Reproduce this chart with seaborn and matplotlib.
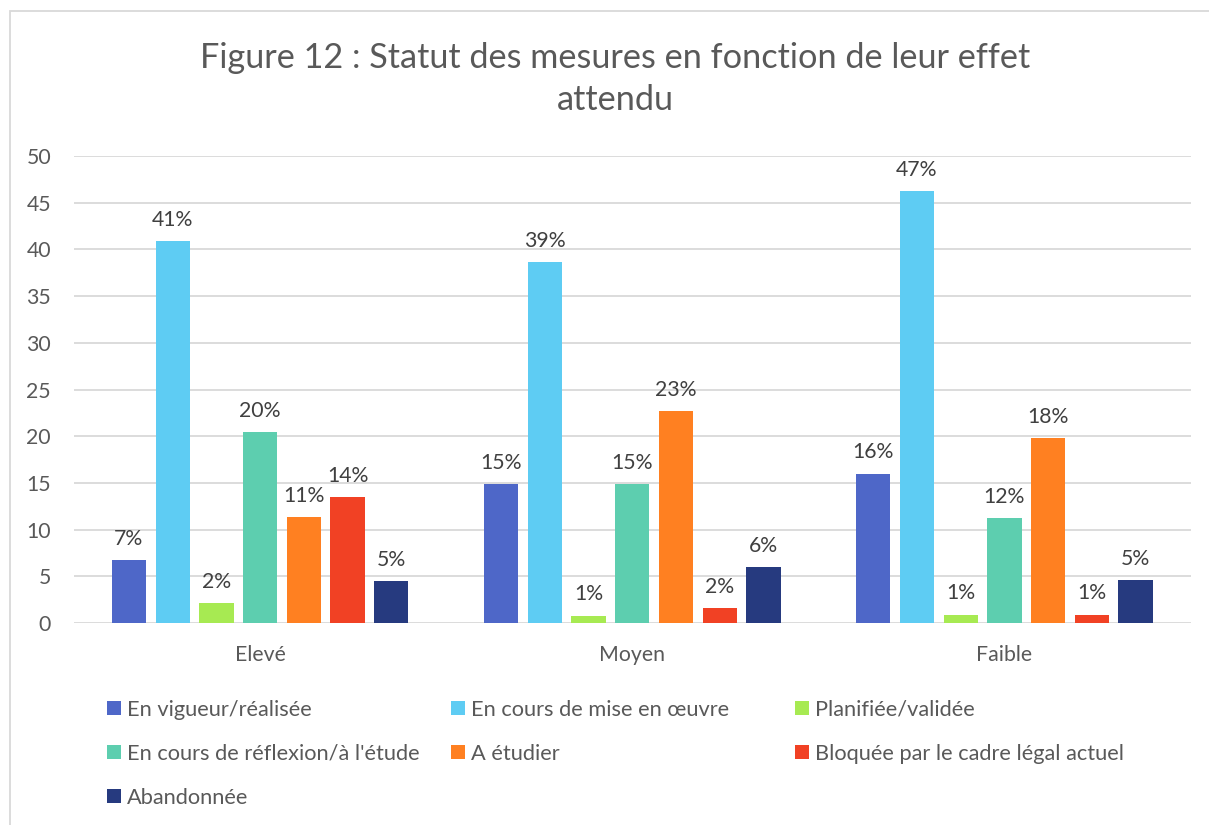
import pandas as pd
import numpy as np
import seaborn as sns
import matplotlib.pyplot as plt
from matplotlib.patches import Rectangle

# Data
effets = ['Elevé', 'Moyen', 'Faible']
statuts = ['En vigueur/réalisée', 'En cours de mise en œuvre', 'Planifiée/validée',
           "En cours de réflexion/à l'étude", 'A étudier',
           'Bloquée par le cadre légal actuel', 'Abandonnée']

# bar heights per status (Elevé, Moyen, Faible)
en_vigueur = [6.7, 14.9, 16.0]
en_cours = [40.9, 38.6, 46.2]
planifiee = [2.1, 0.8, 0.9]
reflexion = [20.4, 14.9, 11.2]
a_etudier = [11.3, 22.7, 19.8]
bloquee = [13.5, 1.6, 0.9]
abandonnee = [4.5, 6.0, 4.6]

# data labels shown above the bars
lbl_en_vigueur = [7, 15, 16]
lbl_en_cours = [41, 39, 47]
lbl_planifiee = [2, 1, 1]
lbl_reflexion = [20, 15, 12]
lbl_a_etudier = [11, 23, 18]
lbl_bloquee = [14, 2, 1]
lbl_abandonnee = [5, 6, 5]

colors = ['#4E67C8', '#5ECCF3', '#A7EA52', '#5DCEAF', '#FF8021', '#F14124', '#263A7F']

series = [en_vigueur, en_cours, planifiee, reflexion, a_etudier, bloquee, abandonnee]
labels = [lbl_en_vigueur, lbl_en_cours, lbl_planifiee, lbl_reflexion,
          lbl_a_etudier, lbl_bloquee, lbl_abandonnee]

df = pd.DataFrame([
    {'effet': e, 'statut': s, 'valeur': v}
    for s, vals in zip(statuts, series)
    for e, v in zip(effets, vals)
])

sns.set_style('white')
plt.rcParams['font.family'] = ['Lato', 'DejaVu Sans']
grey = '#595959'

W, H = 1209, 825
fig = plt.figure(figsize=(W / 100, H / 100), dpi=100)

# light chart border (only top and left edges fall inside the image)
fig.patches.append(Rectangle((10 / W, -0.2), 1.5, 1.2 - 11 / H, transform=fig.transFigure,
                             fill=False, edgecolor='#D9D9D9', linewidth=1.3))

ax = fig.add_axes([74 / W, 1 - 623 / H, (1190.5 - 74) / W, (623 - 156) / H])
sns.barplot(data=df, x='effet', y='valeur', hue='statut', hue_order=statuts,
            palette=colors, saturation=1, width=0.822, gap=0.215,
            linewidth=0, ax=ax)

for cont, lbl in zip(ax.containers, labels):
    ax.bar_label(cont, labels=[f'{p}%' for p in lbl], padding=8,
                 fontsize=15.3, color='#404040')

ax.set_ylim(0, 50)
ax.set_xlim(-0.5, 2.5)
ax.set_yticks(np.arange(0, 51, 5))
ax.set_xlabel('')
ax.set_ylabel('')
ax.yaxis.grid(True, color='#D9D9D9', linewidth=1.3)
ax.set_axisbelow(True)
ax.tick_params(axis='y', length=0, pad=16.5, labelsize=15.3, labelcolor=grey)
ax.tick_params(axis='x', length=0, pad=16, labelsize=15.3, labelcolor=grey)
sns.despine(ax=ax, left=True, bottom=True)

# legend: 3 equal-width columns like the original
handles, _ = ax.get_legend_handles_labels()
ax.legend_.remove()
col_x = [107, 451, 795]
for j, x in enumerate(col_x):
    idx = list(range(j, len(statuts), 3))
    fig.legend([handles[i] for i in idx], [statuts[i] for i in idx],
               loc='upper left', bbox_to_anchor=(x / W, 1 - 700 / H),
               frameon=False, fontsize=15.7, labelcolor=grey,
               handlelength=0.63, handleheight=0.63, handletextpad=0.28,
               labelspacing=1.1, borderpad=0, borderaxespad=0)

fig.text(615 / W, 1 - 79 / H,
         'Figure 12 : Statut des mesures en fonction de leur effet\nattendu',
         ha='center', va='center', fontsize=24.7, color=grey, linespacing=1.4)

plt.savefig('out.png', dpi=100)
